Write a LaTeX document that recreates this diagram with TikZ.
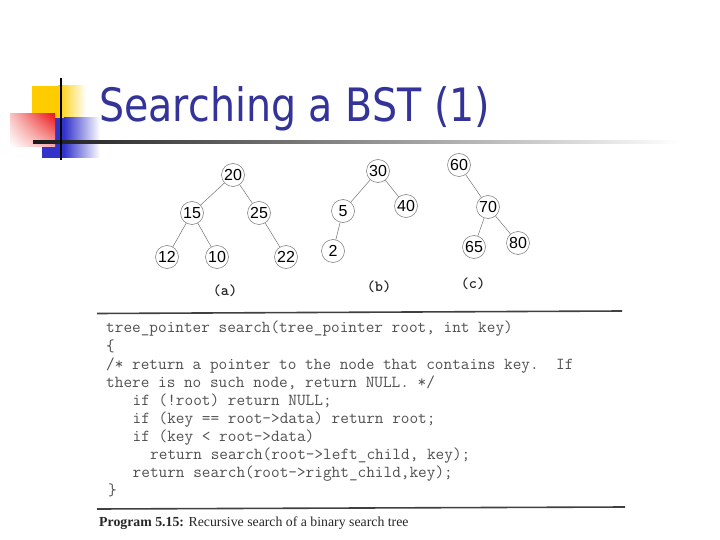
\documentclass[tikz,border=0pt]{standalone}
\usepackage{fontspec}
\usetikzlibrary{shadings}
\setmainfont{Liberation Serif}
\newfontfamily\titlefont[FakeStretch=0.86]{DejaVu Sans}
\newfontfamily\numfont{Liberation Sans}
\definecolor{titleblue}{RGB}{51,51,153}
\definecolor{logoyellow}{RGB}{255,204,0}
\definecolor{logored}{RGB}{235,20,20}
\definecolor{logoblue}{RGB}{51,51,204}
\definecolor{codegray}{RGB}{80,80,80}
\tikzset{
  tn/.style={circle, draw=black!55, line width=0.5pt, minimum size=23pt, inner sep=0pt, font=\numfont\fontsize{16}{16}\selectfont, text=black},
  edge/.style={draw=black!55, line width=0.5pt},
  lbl/.style={font=\ttfamily\bfseries\fontsize{15.5}{15.5}\selectfont, text=black!85},
  codeline/.style={anchor=base west, inner sep=0pt, font=\ttfamily\fontsize{16.8}{16.8}\selectfont, text=codegray},
  rulebar/.style={draw=black!75, line width=1.6pt}
}
\begin{document}
\begin{tikzpicture}[x=1pt,y=-1pt]
\useasboundingbox (0,0) rectangle (720,540);
% logo
\fill[logoyellow] (32,86) rectangle (58,118);
\shade[left color=logoyellow, right color=white] (58,86) rectangle (86,118);
\fill[logoblue] (42,118) rectangle (64,158);
\shade[left color=logoblue, right color=white] (64,118) rectangle (100,158);
\shade[upper left=logored!25, upper right=logored, lower left=white, lower right=logored!35] (10,114) rectangle (55,147);
\shade[left color=black!90, right color=white] (33,140.4) rectangle (680,143.2);
\draw[black, line width=2pt] (61,78) -- (61,160);
% title
\node[anchor=base west, inner sep=0pt, text=titleblue, font=\titlefont\fontsize{46}{46}\selectfont] (title) at (99,122) {Searching a BST (1)};
% tree (a)
\node[tn] (a20) at (233,175) {20};
\node[tn] (a15) at (192,213) {15};
\node[tn] (a25) at (259,213) {25};
\node[tn] (a12) at (167,257) {12};
\node[tn] (a10) at (217,257) {10};
\node[tn] (a22) at (286,257) {22};
\draw[edge] (a20) -- (a15); \draw[edge] (a20) -- (a25);
\draw[edge] (a15) -- (a12); \draw[edge] (a15) -- (a10);
\draw[edge] (a25) -- (a22);
\node[lbl] (la) at (225,291) {(a)};
% tree (b)
\node[tn] (b30) at (378,171) {30};
\node[tn] (b5) at (343,211) {5};
\node[tn] (b40) at (406,206) {40};
\node[tn] (b2) at (333,251) {2};
\draw[edge] (b30) -- (b5); \draw[edge] (b30) -- (b40);
\draw[edge] (b5) -- (b2);
\node[lbl] (lb) at (379,287) {(b)};
% tree (c)
\node[tn] (c60) at (459,165) {60};
\node[tn] (c70) at (488,207) {70};
\node[tn] (c65) at (474,247) {65};
\node[tn] (c80) at (518,243) {80};
\draw[edge] (c60) -- (c70);
\draw[edge] (c70) -- (c65); \draw[edge] (c70) -- (c80);
\node[lbl] (lc) at (473,284) {(c)};
% code
\coordinate (r1a) at (97,313.5); \coordinate (r1b) at (622,311);
\draw[rulebar] (r1a) -- (r1b);
\node[codeline] (l1) at (106,332) {tree\_pointer search(tree\_pointer root, int key)};
\node[codeline] (l2) at (106,351) {\{};
\node[codeline] (l3) at (106,369) {/* return a pointer to the node that contains key.\ \ If};
\node[codeline] (l4) at (106,387) {there is no such node, return NULL. */};
\node[codeline] (l5) at (132.5,405) {if (!root) return NULL;};
\node[codeline] (l6) at (132.5,423) {if (key == root->data) return root;};
\node[codeline] (l7) at (132.5,441) {if (key < root->data)};
\node[codeline] (l8) at (150,459) {return search(root->left\_child, key);};
\node[codeline] (l9) at (132.5,477) {return search(root->right\_child,key);};
\node[codeline] (l10) at (108,495) {\}};
\coordinate (r2a) at (97,509); \coordinate (r2b) at (625,507);
\draw[rulebar] (r2a) -- (r2b);
\node[anchor=base west, inner sep=0pt, font=\fontsize{13.8}{13.8}\selectfont, text=black!85] (cap) at (99,526) {\textbf{Program 5.15:} Recursive search of a binary search tree};
\end{tikzpicture}
\end{document}
